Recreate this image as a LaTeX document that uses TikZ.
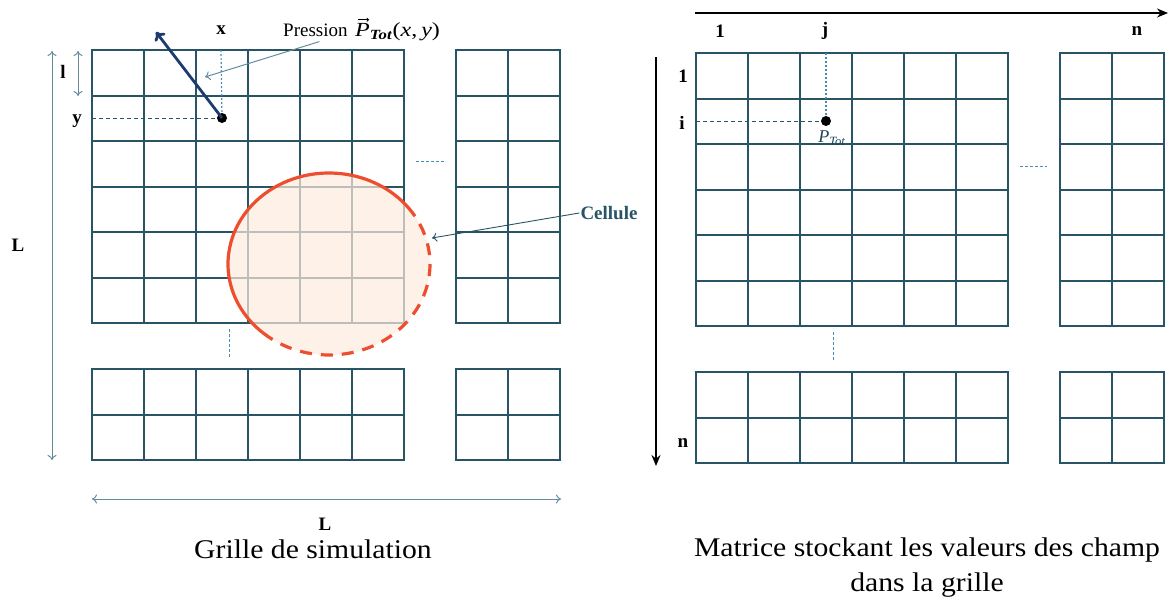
\documentclass[tikz,border=0pt]{standalone}
\usepackage{fontspec}
\setmainfont{Liberation Serif}
\usetikzlibrary{arrows.meta}

\definecolor{gridcol}{RGB}{40,84,102}
\definecolor{dimcol}{RGB}{100,140,156}
\definecolor{cellred}{RGB}{238,78,48}
\definecolor{cellfill}{RGB}{253,236,222}
\definecolor{navy}{RGB}{28,60,112}
\definecolor{dotblue}{RGB}{70,140,180}

\begin{document}
\begin{tikzpicture}[x=1pt,y=-1pt,line cap=butt,line join=round,>={To[length=5pt,width=9pt]},
  every node/.style={inner sep=1pt},
  gridline/.style={draw=gridcol,line width=1.5pt,line cap=rect},
  dimline/.style={draw=dimcol,line width=1pt},
  lbl/.style={font=\fontsize{19}{21}\selectfont\bfseries},
  caption/.style={font=\fontsize{27}{35}\selectfont,align=center}]
  \useasboundingbox (0,0) rectangle (1173,603);
  % left grid
  \foreach \y in {50,96,141,187,232,278,323} {
    \draw[gridline] (92,\y) -- (404,\y);
    \draw[gridline] (456,\y) -- (560,\y);
  }
  \foreach \y in {369,415,460} {
    \draw[gridline] (92,\y) -- (404,\y);
    \draw[gridline] (456,\y) -- (560,\y);
  }
  \foreach \x in {92,144,...,404,456,508,560} {
    \draw[gridline] (\x,50) -- (\x,323);
    \draw[gridline] (\x,369) -- (\x,460);
  }
  % right grid
  \foreach \y in {53,99,144,190,235,281,326} {
    \draw[gridline] (696,\y) -- (1008,\y);
    \draw[gridline] (1060,\y) -- (1164,\y);
  }
  \foreach \y in {372,418,463} {
    \draw[gridline] (696,\y) -- (1008,\y);
    \draw[gridline] (1060,\y) -- (1164,\y);
  }
  \foreach \x in {696,748,...,1008,1060,1112,1164} {
    \draw[gridline] (\x,53) -- (\x,326);
    \draw[gridline] (\x,372) -- (\x,463);
  }
  % cellule
  \coordinate (cc) at (329,264);
  \fill[cellfill,fill opacity=0.7] (cc) ellipse [x radius=101,y radius=91];
  \draw[cellred,line width=3.2pt] (cc) ++(-35:101 and 91)
    arc[start angle=-35,end angle=-229,x radius=101,y radius=91];
  \draw[cellred,line width=3.2pt,dash pattern=on 12pt off 9pt] (cc) ++(131:101 and 91)
    arc[start angle=131,end angle=-35,x radius=101,y radius=91];
  % ellipsis marks
  \draw[dotblue,dash pattern=on 3pt off 2pt,line width=0.9pt] (416,161) -- (444,161);
  \draw[dotblue,dash pattern=on 3pt off 2pt,line width=0.9pt] (229,329) -- (229,357);
  \draw[dotblue,dash pattern=on 3pt off 2pt,line width=0.9pt] (1020,166) -- (1047,166);
  \draw[dotblue,dash pattern=on 3pt off 2pt,line width=0.9pt] (833,332) -- (833,361);
  % left labels and point
  \coordinate (pt) at (222,118);
  \node[lbl] (xlab) at (221,30) {x};
  \node[lbl] (ylab) at (77,121) {y};
  \node[lbl] (llab) at (63,72) {l};
  \node[lbl] (Lv) at (18,245) {L};
  \node[lbl] (Lh) at (325,524) {L};
  \draw[gridcol,dash pattern=on 4pt off 3pt,line width=1pt] (92,118) -- (pt);
  \draw[dotblue,dash pattern=on 2pt off 2pt,line width=1.2pt] (221,50) -- (pt);
  \fill (pt) circle (5);
  \coordinate (vtip) at (156,32);
  \draw[navy,line width=2.8pt,-{To[length=8pt,width=13pt]}] (pt) -- (vtip);
  \draw[dimline,<->] (52,51) -- (52,460);
  \draw[dimline,<->] (78,51) -- (78,96);
  \draw[dimline,<->] (92,499) -- (561,499);
  \node[anchor=west,font=\fontsize{19}{21}\selectfont] (pres) at (282,30) {Pression};
  \node[anchor=west,font=\fontsize{20}{22}\selectfont] (ptotL) at (354,32)
    {\scalebox{1.2}[1]{\textit{P}\textsubscript{\textbf{\textit{Tot}}}(\textit{x},\,\textit{y})}};
  \draw[line width=0.8pt,-{To[length=2.5pt,width=4pt]}] ([xshift=4pt,yshift=2pt]ptotL.north west)
    -- ++(11,0);
  \coordinate (presTip) at (205,77);
  \draw[dimline,->] ([xshift=4pt,yshift=-4pt]pres.south) -- (presTip);
  \node[font=\fontsize{19}{21}\selectfont\bfseries,text=gridcol] (cell) at (609,213) {Cellule};
  \coordinate (cellTip) at (432,238);
  \draw[gridcol,line width=0.9pt,->] (cell.west) -- (cellTip);
  \node[caption] (capL) at (313,549) {\scalebox{1.1}[1]{Grille de simulation}};
  % right labels and point
  \coordinate (pm) at (826,121);
  \coordinate (ha) at (695,13);
  \coordinate (hb) at (1168,13);
  \coordinate (va) at (656,57);
  \coordinate (vb) at (656,466);
  \draw[line width=1.6pt,-{Stealth[length=11pt,width=9pt]}] (ha) -- (hb);
  \draw[line width=1.6pt,-{Stealth[length=11pt,width=9pt]}] (va) -- (vb);
  \node[lbl] (c1) at (720,31) {1};
  \node[lbl] (cj) at (825,31) {j};
  \node[lbl] (cn) at (1137,31) {n};
  \node[lbl] (r1) at (683,76) {1};
  \node[lbl] (ri) at (682,123) {i};
  \node[lbl] (rn) at (683,443) {n};
  \draw[gridcol,dash pattern=on 4pt off 3pt,line width=1pt] (696,121) -- (pm);
  \draw[dotblue,dash pattern=on 2pt off 2pt,line width=1.2pt] (826,53) -- (pm);
  \fill (pm) circle (5);
  \node[font=\fontsize{18}{20}\selectfont,text=gridcol!80!black] (ptot) at (832,138) {\textit{P}\textsubscript{\textit{Tot}}};
  \node[caption] (capR) at (927,568)
    {\scalebox{1.1}[1]{Matrice stockant les valeurs des champ}\\\scalebox{1.1}[1]{dans la grille}};
\end{tikzpicture}
\end{document}
